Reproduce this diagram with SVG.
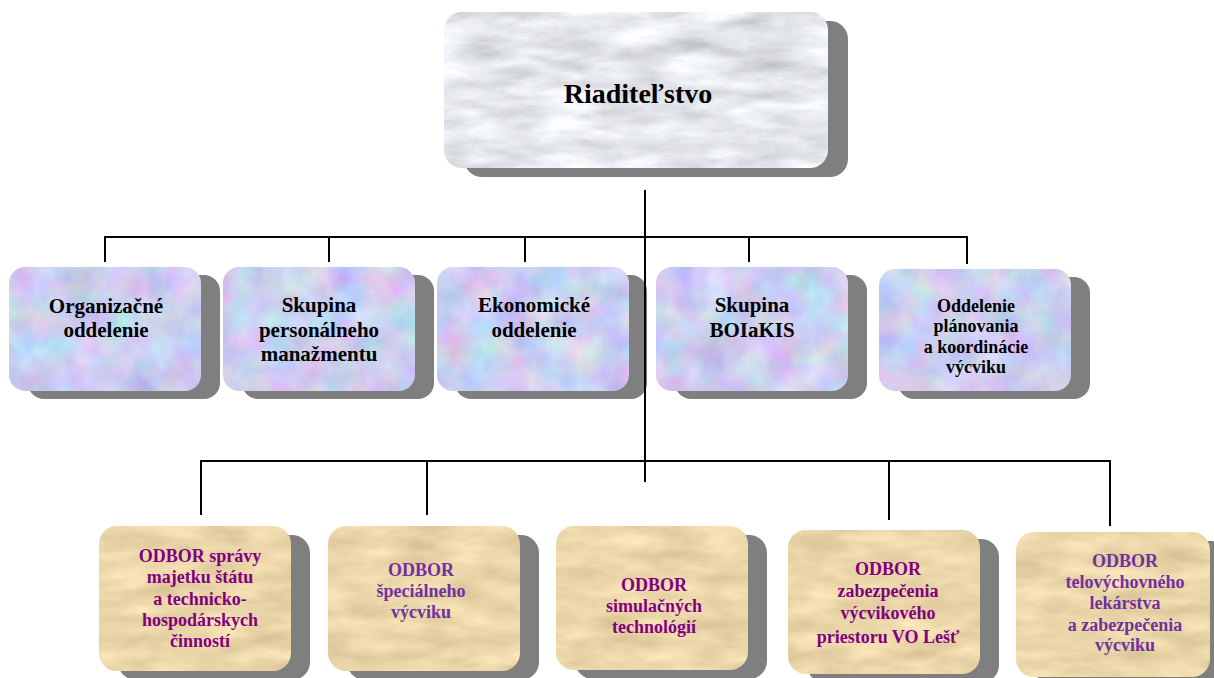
<svg xmlns="http://www.w3.org/2000/svg" width="1214" height="678" viewBox="0 0 1214 678">
<defs>
<style>
.shadow{fill:#7f7f7f}
.t{font-family:"Liberation Serif","Times New Roman",serif;font-weight:bold;text-anchor:middle}
.big{font-size:28px;fill:#000}
.mid{font-size:21px;fill:#000}
.sm{font-size:18px;fill:#000}
.p1{font-size:18px;fill:#800080}
.p2{font-size:18px;fill:#7030a0}
.conn{stroke:#000;stroke-width:2;fill:none}
filter{color-interpolation-filters:sRGB}
</style>
<filter id="marble" x="0" y="0" width="1" height="1" color-interpolation-filters="sRGB">
<feTurbulence type="fractalNoise" baseFrequency="0.015 0.05" numOctaves="5" seed="3" result="n"/>
<feColorMatrix in="n" type="matrix" values="0.25 0.25 0 0 0.65  0.25 0.25 0 0 0.66  0.25 0.25 0 0 0.68  0 0 0 0 1" result="c"/>
<feComposite in="c" in2="SourceGraphic" operator="in"/>
</filter>
<filter id="pastel" x="0" y="0" width="1" height="1" color-interpolation-filters="sRGB">
<feTurbulence type="fractalNoise" baseFrequency="0.03" numOctaves="3" seed="7" result="n"/>
<feColorMatrix in="n" type="matrix" values="0.35 0 0 0 0.62  0 0.3 0 0 0.66  0 0 0.2 0 0.84  0 0 0 0 1" result="c"/>
<feComposite in="c" in2="SourceGraphic" operator="in"/>
</filter>
<filter id="beige" x="0" y="0" width="1" height="1" color-interpolation-filters="sRGB">
<feTurbulence type="fractalNoise" baseFrequency="0.02 0.06" numOctaves="3" seed="5" result="n"/>
<feColorMatrix in="n" type="matrix" values="0.2 0 0 0 0.82  0.2 0 0 0 0.74  0.2 0 0 0 0.56  0 0 0 0 1" result="c"/>
<feComposite in="c" in2="SourceGraphic" operator="in"/>
</filter>
</defs>

<g id="riaditelstvo">
<rect class="shadow" x="464" y="21" width="384" height="156" rx="18"/>
<rect x="444" y="12" width="384" height="156" rx="18" fill="#e4e6e8" filter="url(#marble)"/>
<text class="t big" x="638" y="103">Riaditeľstvo</text>
</g>

<g id="organizacne">
<rect class="shadow" x="28" y="275" width="192" height="124" rx="16"/>
<rect x="9" y="267" width="192" height="124" rx="16" fill="#c8d8f0" filter="url(#pastel)"/>
<text class="t mid" x="106" y="313">Organizačné</text>
<text class="t mid" x="106" y="337">oddelenie</text>
</g>

<g id="personalne">
<rect class="shadow" x="242" y="275" width="192" height="124" rx="16"/>
<rect x="223" y="267" width="192" height="124" rx="16" fill="#c8d8f0" filter="url(#pastel)"/>
<text class="t mid" x="319" y="312">Skupina</text>
<text class="t mid" x="319" y="337">personálneho</text>
<text class="t mid" x="319" y="361">manažmentu</text>
</g>

<g id="ekonomicke">
<rect class="shadow" x="455" y="275" width="192" height="124" rx="16"/>
<rect x="437" y="267" width="192" height="124" rx="16" fill="#c8d8f0" filter="url(#pastel)"/>
<text class="t mid" x="534" y="312">Ekonomické</text>
<text class="t mid" x="534" y="337">oddelenie</text>
</g>

<g id="boiakis">
<rect class="shadow" x="675" y="275" width="192" height="124" rx="16"/>
<rect x="656" y="267" width="192" height="124" rx="16" fill="#c8d8f0" filter="url(#pastel)"/>
<text class="t mid" x="752" y="312">Skupina</text>
<text class="t mid" x="752" y="337">BOIaKIS</text>
</g>

<g id="planovanie">
<rect class="shadow" x="898" y="277" width="192" height="122" rx="16"/>
<rect x="879" y="269" width="192" height="122" rx="16" fill="#c8d8f0" filter="url(#pastel)"/>
<text class="t sm" x="976" y="312">Oddelenie</text>
<text class="t sm" x="976" y="332">plánovania</text>
<text class="t sm" x="976" y="353">a koordinácie</text>
<text class="t sm" x="976" y="373">výcviku</text>
</g>

<g id="odbor-majetku">
<rect class="shadow" x="118" y="535" width="192" height="145" rx="18"/>
<rect x="99" y="526" width="192" height="145" rx="18" fill="#e8d5a8" filter="url(#beige)"/>
<text class="t p1" x="200" y="562">ODBOR správy</text>
<text class="t p1" x="200" y="583">majetku štátu</text>
<text class="t p1" x="200" y="605">a technicko-</text>
<text class="t p1" x="200" y="626">hospodárskych</text>
<text class="t p1" x="200" y="647">činností</text>
</g>

<g id="odbor-specialneho">
<rect class="shadow" x="347" y="535" width="192" height="145" rx="18"/>
<rect x="328" y="526" width="192" height="145" rx="18" fill="#e8d5a8" filter="url(#beige)"/>
<text class="t p2" x="421" y="576">ODBOR</text>
<text class="t p2" x="421" y="597">špeciálneho</text>
<text class="t p2" x="421" y="618">výcviku</text>
</g>

<g id="odbor-simulacnych">
<rect class="shadow" x="575" y="535" width="192" height="144" rx="18"/>
<rect x="556" y="526" width="192" height="144" rx="18" fill="#e8d5a8" filter="url(#beige)"/>
<text class="t p1" x="654" y="591">ODBOR</text>
<text class="t p1" x="654" y="612">simulačných</text>
<text class="t p1" x="654" y="633">technológií</text>
</g>

<g id="odbor-priestoru">
<rect class="shadow" x="807" y="539" width="192" height="144" rx="18"/>
<rect x="788" y="530" width="192" height="144" rx="18" fill="#e8d5a8" filter="url(#beige)"/>
<text class="t p1" x="888" y="575">ODBOR</text>
<text class="t p1" x="888" y="597">zabezpečenia</text>
<text class="t p1" x="888" y="619">výcvikového</text>
<text class="t p1" x="888" y="643">priestoru VO Lešť</text>
</g>

<g id="odbor-lekarstva">
<rect class="shadow" x="1035" y="541" width="194" height="145" rx="18"/>
<rect x="1016" y="532" width="194" height="145" rx="18" fill="#e8d5a8" filter="url(#beige)"/>
<text class="t p2" x="1125" y="567">ODBOR</text>
<text class="t p2" x="1125" y="588">telovýchovného</text>
<text class="t p2" x="1125" y="609">lekárstva</text>
<text class="t p2" x="1125" y="631">a zabezpečenia</text>
<text class="t p2" x="1125" y="651">výcviku</text>
</g>

<g id="connectors" class="conn">
<path d="M645 190 V482"/>
<path d="M105 262 V237 H967 V264"/>
<path d="M329 237 V262 M525 237 V262 M749 237 V262"/>
<path d="M201 515 V461 H1110 V526"/>
<path d="M427 461 V515 M889 461 V520"/>
</g>
</svg>
